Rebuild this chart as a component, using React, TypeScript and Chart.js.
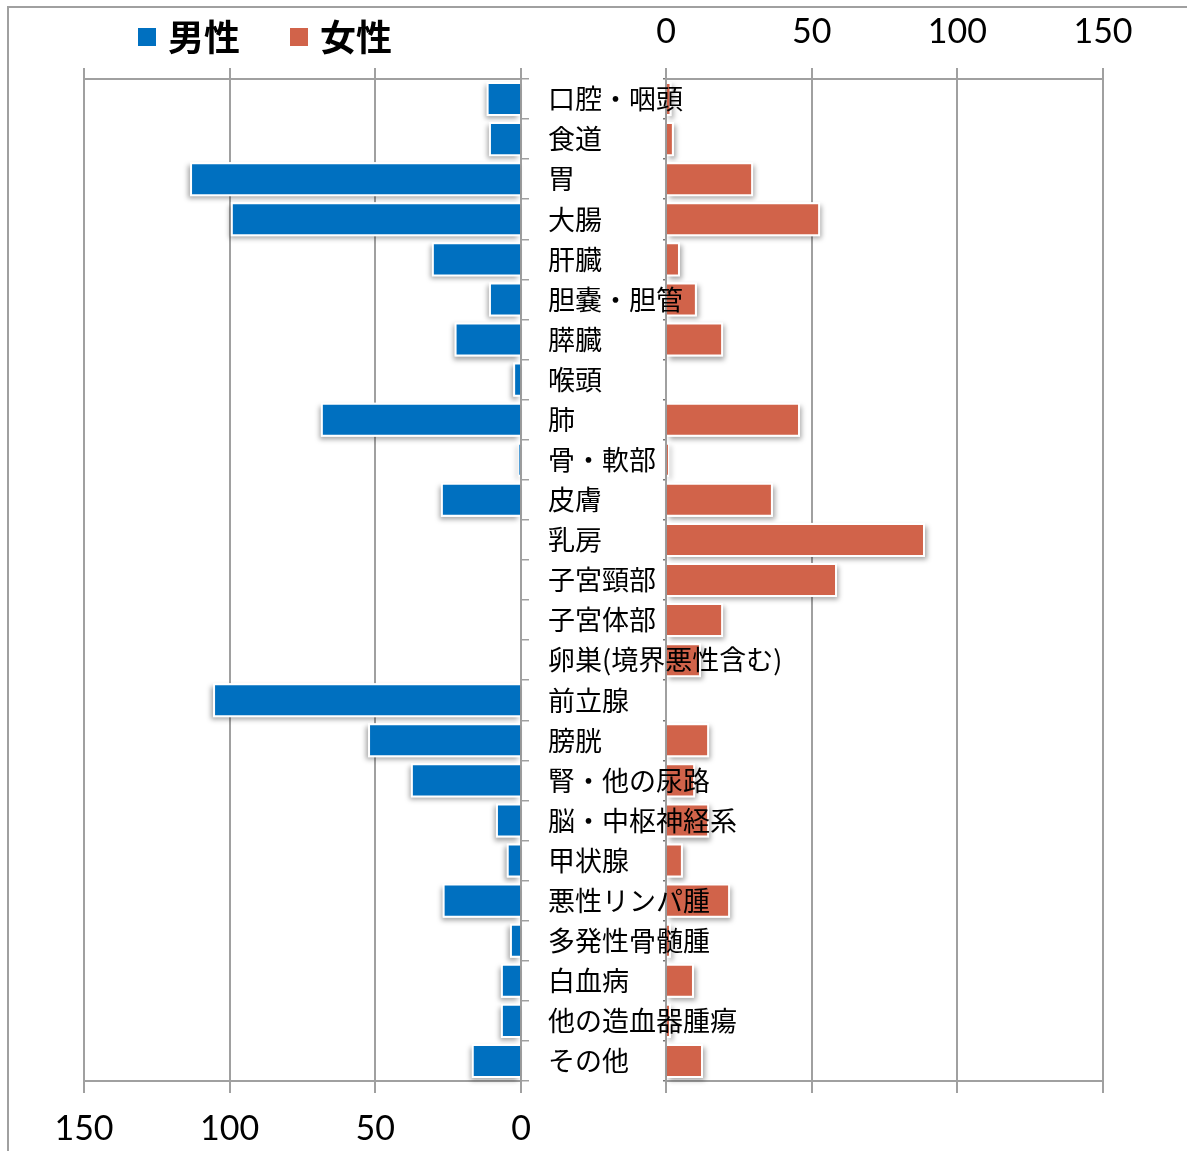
import React, { useEffect, useRef } from "react";
import { Chart, registerables } from "chart.js";

Chart.register(...registerables);

const categories = [
  "口腔・咽頭", "食道", "胃", "大腸", "肝臓", "胆嚢・胆管", "膵臓", "喉頭", "肺", "骨・軟部",
  "皮膚", "乳房", "子宮頸部", "子宮体部", "卵巣(境界悪性含む)", "前立腺", "膀胱", "腎・他の尿路",
  "脳・中枢神経系", "甲状腺", "悪性リンパ腫", "多発性骨髄腫", "白血病", "他の造血器腫瘍", "その他",
];

const maleValues = [
  11.8, 11, 113.6, 99.6, 30.6, 11, 22.8, 2.7, 68.7, 0.8,
  27.5, 0, 0, 0, 0, 105.7, 52.5, 37.8,
  8.6, 4.9, 26.9, 3.8, 6.9, 6.9, 16.9,
];

const femaleValues = [
  1.9, 2.7, 29.9, 52.9, 4.8, 10.6, 19.6, 0, 46, 1.0,
  36.7, 88.9, 58.7, 19.6, 12, 0, 14.8, 10,
  14.8, 5.8, 22, 1.7, 9.6, 1.7, 12.7,
];

const maleTicks = [0, 50, 100, 150];
const femaleTicks = [0, 50, 100, 150];

const MALE_COLOR = "#0070C0";
const FEMALE_COLOR = "#D1634A";
const GRID = "#a0a0a0";
const W = 1187;
const H = 1151;

const tickFont = { family: "Lato, 'Open Sans', sans-serif", size: 34 };

const makeShadowPlugin = (dx: number, dy: number) => ({
  id: "barShadow",
  beforeDatasetsDraw(chart: any) {
    const ctx = chart.ctx;
    chart.data.datasets.forEach((_d: any, i: number) => {
      const meta = chart.getDatasetMeta(i);
      meta.data.forEach((el: any) => {
        const { x, y, base, height } = el.getProps(["x", "y", "base", "height"], true);
        const w = Math.abs(x - base);
        if (w < 0.5) return;
        ctx.save();
        ctx.shadowColor = "rgba(0,0,0,0.35)";
        ctx.shadowBlur = 5;
        ctx.shadowOffsetX = dx;
        ctx.shadowOffsetY = dy;
        ctx.fillStyle = "#ffffff";
        ctx.fillRect(Math.min(x, base), y - height / 2, w, height);
        ctx.restore();
      });
    });
  },
});

export default function App() {
  const leftRef = useRef<HTMLCanvasElement>(null);
  const rightRef = useRef<HTMLCanvasElement>(null);

  useEffect(() => {
    const right = new Chart(rightRef.current as HTMLCanvasElement, {
      type: "bar",
      data: {
        labels: categories,
        datasets: [
          {
            label: "女性",
            data: femaleValues,
            backgroundColor: FEMALE_COLOR,
            borderColor: "#ffffff",
            borderWidth: 2,
            borderSkipped: "start",
            barPercentage: 0.85,
            categoryPercentage: 1,
            xAxisID: "x",
            yAxisID: "y",
          },
        ],
      },
      options: {
        indexAxis: "y",
        responsive: false,
        maintainAspectRatio: false,
        animation: false,
        layout: { padding: { left: 616, right: 84, top: 0, bottom: 59 } },
        plugins: { legend: { display: false }, tooltip: { enabled: false } },
        scales: {
          x: {
            type: "linear",
            position: "top",
            min: 0,
            max: 150,
            afterBuildTicks: (s: any) => { s.ticks = femaleTicks.map((v) => ({ value: v })); },
            ticks: { font: tickFont, color: "#000", padding: 16, maxRotation: 0 },
            grid: { color: GRID, lineWidth: 2, tickLength: 11 },
            border: { color: GRID, width: 2 },
            afterFit: (s: any) => { s.height = 79; },
          },
          x2: {
            type: "linear",
            position: "bottom",
            min: 0,
            max: 150,
            afterBuildTicks: (s: any) => { s.ticks = femaleTicks.map((v) => ({ value: v })); },
            ticks: { display: false },
            grid: { drawOnChartArea: false, color: GRID, lineWidth: 2, tickLength: 12 },
            border: { color: GRID, width: 2 },
            afterFit: (s: any) => { s.height = 11; },
          },
          y: {
            type: "category",
            position: "left",
            ticks: { display: false },
            grid: { drawOnChartArea: false, offset: true, color: "#777", lineWidth: 1.5, tickLength: 3 },
            border: { color: GRID, width: 1.5 },
            afterFit: (s: any) => { s.width = 50; },
          },
        },
      } as any,
      plugins: [makeShadowPlugin(2, 3)],
    });

    const left = new Chart(leftRef.current as HTMLCanvasElement, {
      type: "bar",
      data: {
        labels: categories,
        datasets: [
          {
            label: "男性",
            data: maleValues,
            backgroundColor: MALE_COLOR,
            borderColor: "#ffffff",
            borderWidth: 2,
            borderSkipped: "start",
            barPercentage: 0.85,
            categoryPercentage: 1,
            xAxisID: "x",
            yAxisID: "y",
          },
        ],
      },
      options: {
        indexAxis: "y",
        responsive: false,
        maintainAspectRatio: false,
        animation: false,
        layout: { padding: { left: 84, right: 366, top: 68, bottom: 0 } },
        plugins: { legend: { display: false }, tooltip: { enabled: false } },
        scales: {
          x: {
            type: "linear",
            position: "bottom",
            reverse: true,
            min: 0,
            max: 150,
            afterBuildTicks: (s: any) => { s.ticks = maleTicks.map((v) => ({ value: v })); },
            ticks: { font: tickFont, color: "#000", padding: 16, maxRotation: 0 },
            grid: { color: GRID, lineWidth: 2, tickLength: 12 },
            border: { color: GRID, width: 2 },
            afterFit: (s: any) => { s.height = 70; },
          },
          x2: {
            type: "linear",
            position: "top",
            reverse: true,
            min: 0,
            max: 150,
            afterBuildTicks: (s: any) => { s.ticks = maleTicks.map((v) => ({ value: v })); },
            ticks: { display: false },
            grid: { drawOnChartArea: false, color: GRID, lineWidth: 2, tickLength: 11 },
            border: { color: GRID, width: 2 },
            afterFit: (s: any) => { s.height = 11; },
          },
          y: {
            type: "category",
            position: "right",
            ticks: {
              font: { family: "'Noto Sans CJK JP', sans-serif", size: 27 },
              color: "#000",
              padding: 19,
              autoSkip: false,
              crossAlign: "near",
            },
            grid: { drawOnChartArea: false, offset: true, color: GRID, lineWidth: 1.5, tickLength: 8 },
            border: { color: GRID, width: 2 },
            afterFit: (s: any) => { s.width = 300; },
          },
        },
      } as any,
      plugins: [makeShadowPlugin(-2, 3)],
    });

    return () => {
      left.destroy();
      right.destroy();
    };
  }, []);

  const legendText: React.CSSProperties = {
    position: "absolute",
    top: 17,
    font: "bold 36px 'Noto Sans CJK JP', sans-serif",
    lineHeight: "36px",
    whiteSpace: "nowrap",
    color: "#000",
  };

  return (
    <div style={{ position: "absolute", left: 0, top: 0, width: W, height: H, overflow: "hidden", background: "#fff" }}>
      <div
        style={{
          position: "absolute",
          left: 7,
          top: 6,
          width: W + 20,
          height: H + 20,
          border: `2px solid ${GRID}`,
          boxSizing: "border-box",
        }}
      />
      <canvas ref={rightRef} width={W} height={H} style={{ position: "absolute", left: 0, top: 0 }} />
      <canvas ref={leftRef} width={W} height={H} style={{ position: "absolute", left: 0, top: 0 }} />
      <div style={{ position: "absolute", left: 138, top: 28, width: 18, height: 18, background: MALE_COLOR }} />
      <div style={{ ...legendText, left: 168 }}>男性</div>
      <div style={{ position: "absolute", left: 290, top: 28, width: 18, height: 18, background: FEMALE_COLOR }} />
      <div style={{ ...legendText, left: 320 }}>女性</div>
    </div>
  );
}
